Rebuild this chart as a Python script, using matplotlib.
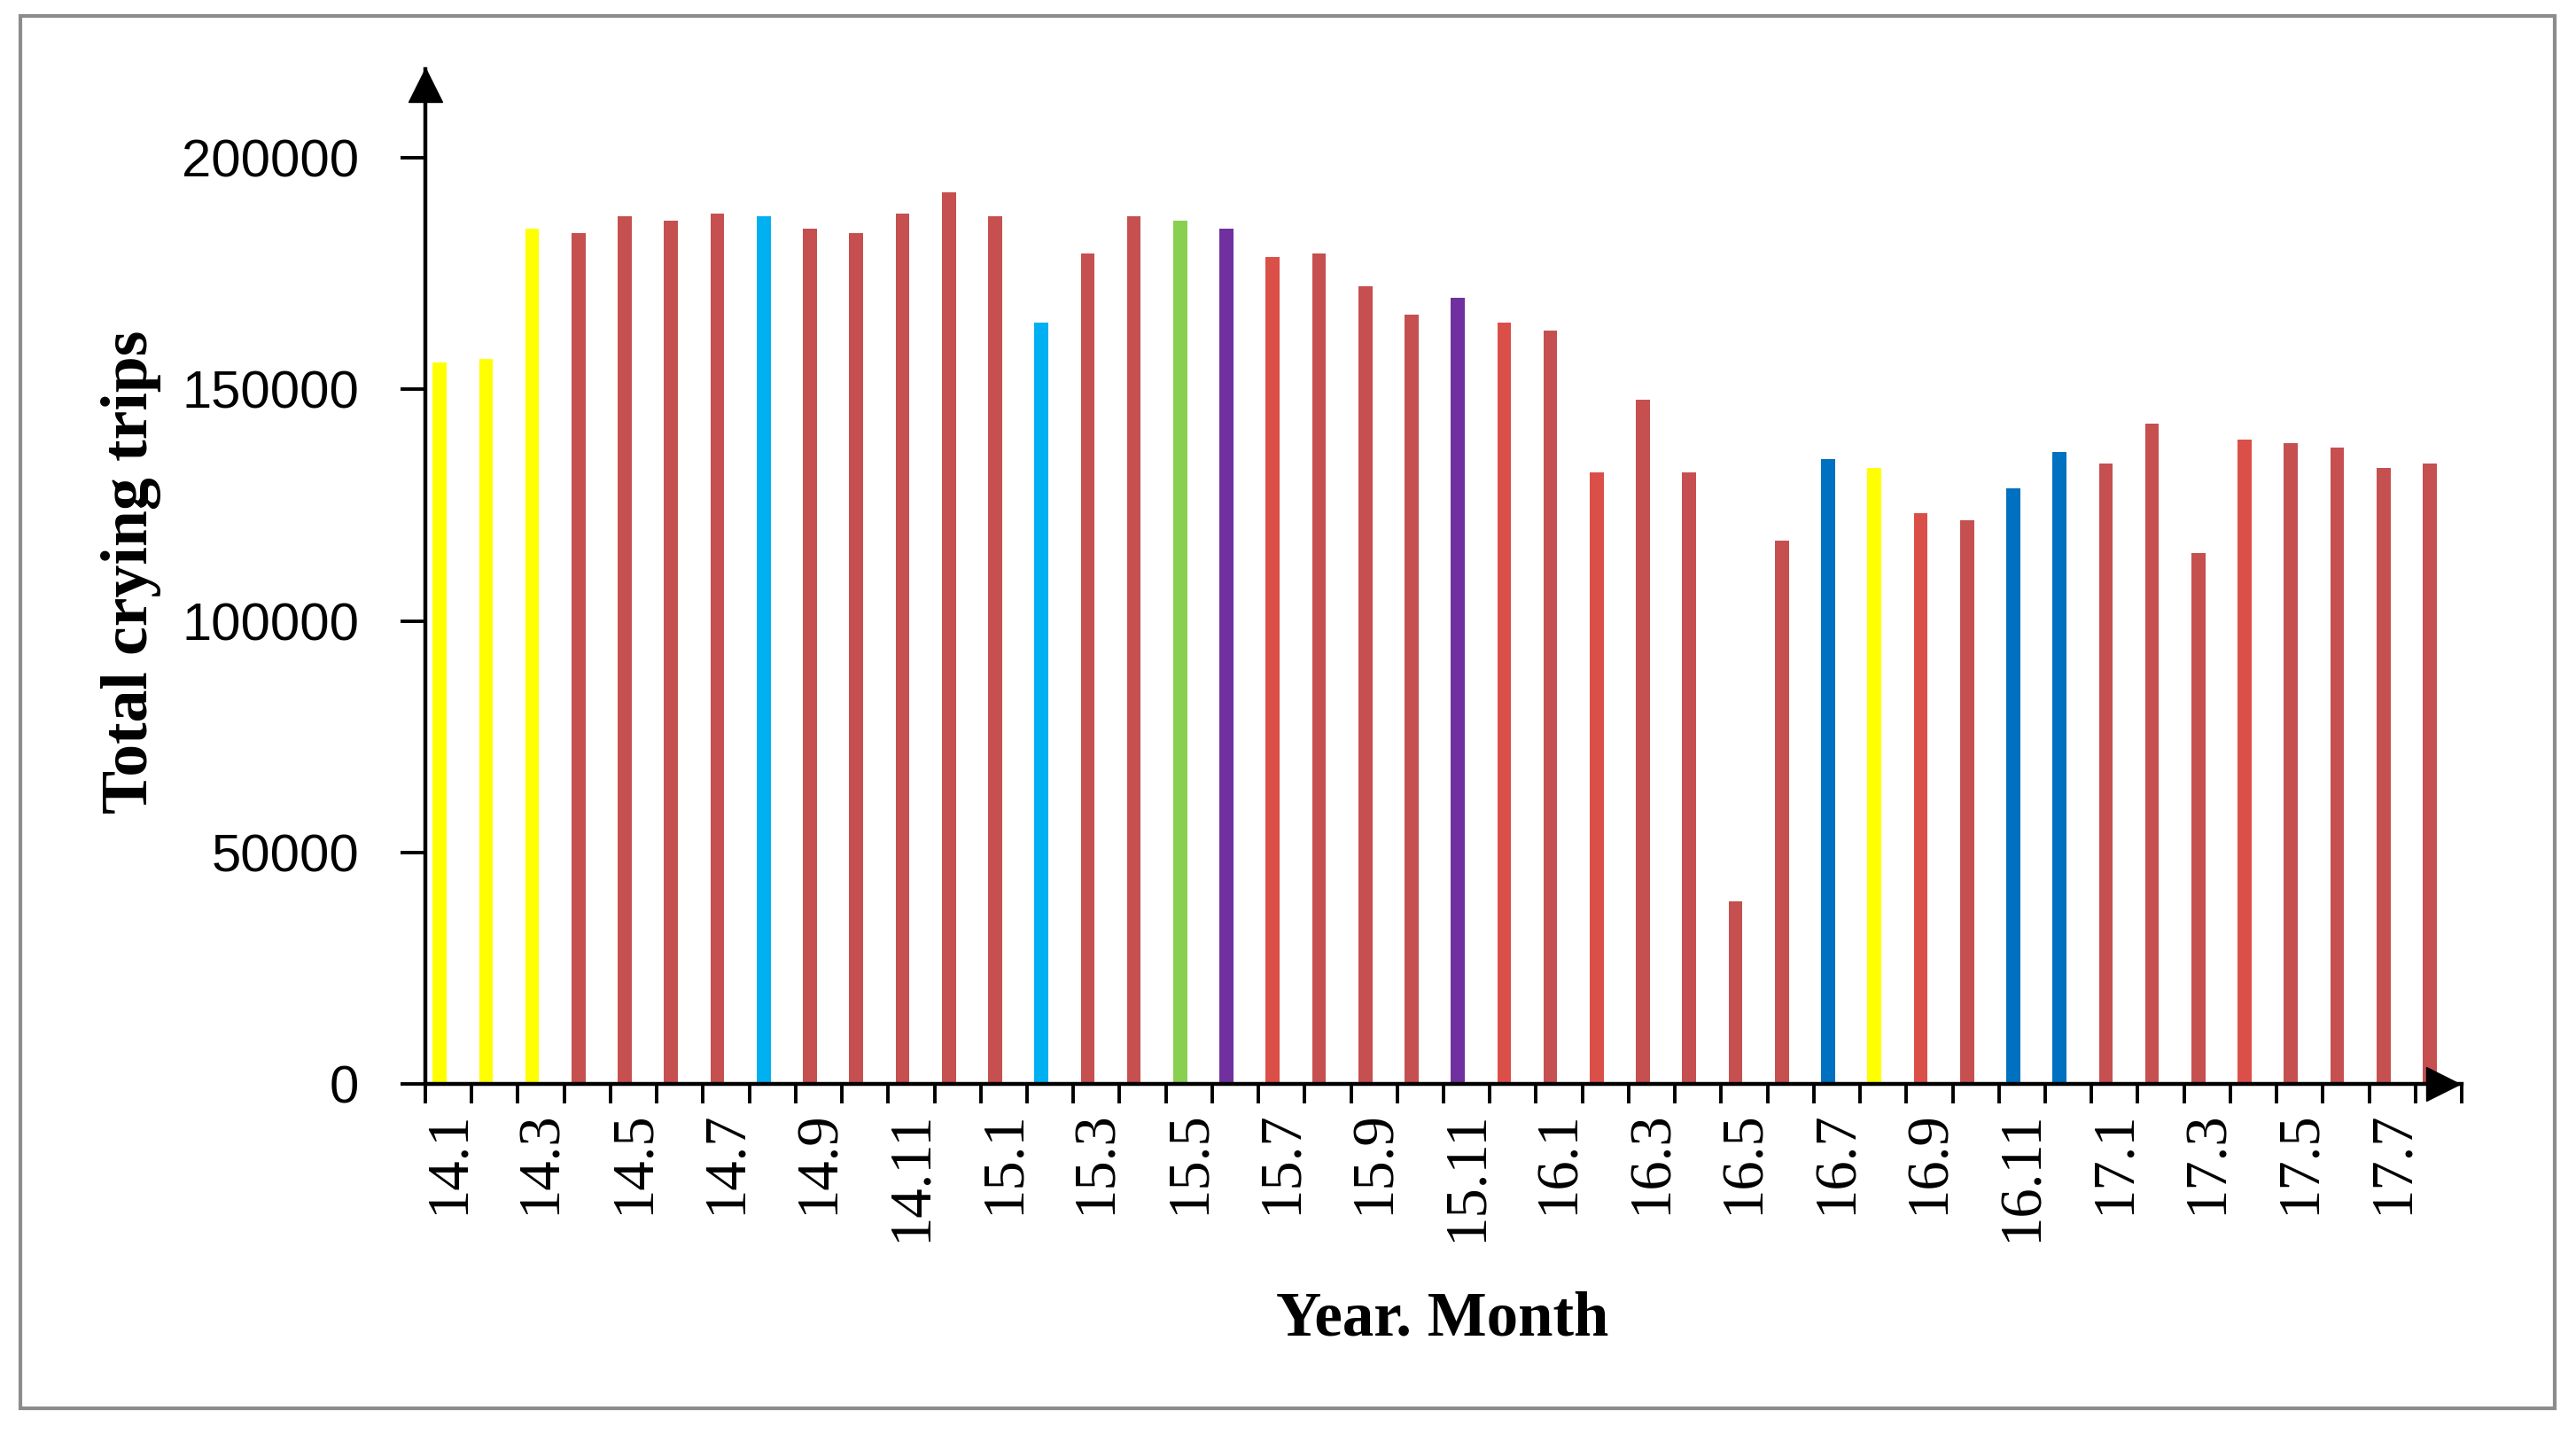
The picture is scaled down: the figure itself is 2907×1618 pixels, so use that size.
import matplotlib
matplotlib.use("Agg")
import matplotlib.pyplot as plt
from matplotlib.patches import Rectangle

# ---- data ----
months = ["14.1", "14.2", "14.3", "14.4", "14.5", "14.6", "14.7", "14.8", "14.9", "14.10", "14.11", "14.12",
          "15.1", "15.2", "15.3", "15.4", "15.5", "15.6", "15.7", "15.8", "15.9", "15.10", "15.11", "15.12",
          "16.1", "16.2", "16.3", "16.4", "16.5", "16.6", "16.7", "16.8", "16.9", "16.10", "16.11", "16.12",
          "17.1", "17.2", "17.3", "17.4", "17.5", "17.6", "17.7", "17.8"]
trips = [155800, 156500, 184600, 183800, 187300, 186400, 188000, 187300, 184600, 183800, 188000, 192500,
         187300, 164400, 179400, 187300, 186400, 184600, 178500, 179400, 172300, 166200, 169700, 164400,
         162700, 132000, 147800, 132000, 39500, 117300, 134900, 133100, 123300, 121700, 128700, 136500,
         133900, 142600, 114700, 139100, 138300, 137500, 133100, 133900]
# colour group of each month
groups = ["Y", "Y", "Y", "R", "R", "R", "R", "C", "R", "R", "R", "R",
          "R", "C", "R", "R", "G", "P", "R2", "R", "R", "R", "P", "R2",
          "R", "R2", "R", "R", "R", "R", "B", "Y", "R2", "R", "B", "B",
          "R", "R", "R", "R2", "R", "R", "R", "R"]
yticks = [0, 50000, 100000, 150000, 200000]

palette = {"Y": "#FFFF00", "R": "#C5504F", "R2": "#DB4F49", "C": "#00B0F0",
           "G": "#88D050", "P": "#7030A0", "B": "#0070C0"}

W, H = 2907, 1618
fig = plt.figure(figsize=(W / 100, H / 100), dpi=100)
fig.patch.set_facecolor("white")

x0, x1 = 480, 2778
ytop, ybase = 78, 1223
ax = fig.add_axes([x0 / W, (H - ybase) / H, (x1 - x0) / W, (ybase - ytop) / H])

idx = list(range(len(months)))
ax.bar([i - 0.19 for i in idx], trips, width=0.3,
       color=[palette[g] for g in groups], zorder=2)

ax.set_xlim(-0.5, len(months) - 0.5)
ymax = 200000 * (ybase - ytop) / (ybase - 178)
ax.set_ylim(0, ymax)

for s in ["top", "right"]:
    ax.spines[s].set_visible(False)
for s in ["left", "bottom"]:
    ax.spines[s].set_linewidth(3.2)
    ax.spines[s].set_color("black")

# y ticks
ax.set_yticks(yticks)
ax.set_yticklabels([str(v) for v in yticks], fontfamily="Liberation Sans", fontsize=43)
ax.tick_params(axis="y", direction="out", length=20, width=2.8, pad=34, colors="black")

# x ticks: labels at every other month centre, tick marks at category boundaries
ax.set_xticks(idx[::2])
ax.set_xticklabels(months[::2], rotation=90, fontfamily="Liberation Serif", fontsize=48)
ax.tick_params(axis="x", which="major", length=0, pad=22)
ax.set_xticks([i - 0.5 for i in range(len(months) + 1)], minor=True)
ax.tick_params(axis="x", which="minor", direction="out", length=16, width=2.8)

# arrow heads
ax.plot([0], [0.984], marker="^", markersize=27, color="black",
        transform=ax.transAxes, clip_on=False, zorder=5)
ax.plot([(2757 - x0) / (x1 - x0)], [0], marker=">", markersize=27, color="black",
        transform=ax.transAxes, clip_on=False, zorder=5)

# axis titles
fig.text(148 / W, (H - 645) / H, "Total crying trips", rotation=90, ha="center", va="center",
         fontfamily="Liberation Serif", fontweight="bold", fontsize=53)
fig.text(1628 / W, (H - 1489) / H, "Year. Month", ha="center", va="center",
         fontfamily="Liberation Serif", fontweight="bold", fontsize=51)

# outer frame
fig.patches.append(Rectangle((23 / W, (H - 1589) / H), (2883 - 23) / W, (1589 - 18) / H,
                             transform=fig.transFigure, fill=False, edgecolor="#8C8C8C",
                             linewidth=3.0))

fig.savefig("out.png", dpi=100, facecolor="white")
